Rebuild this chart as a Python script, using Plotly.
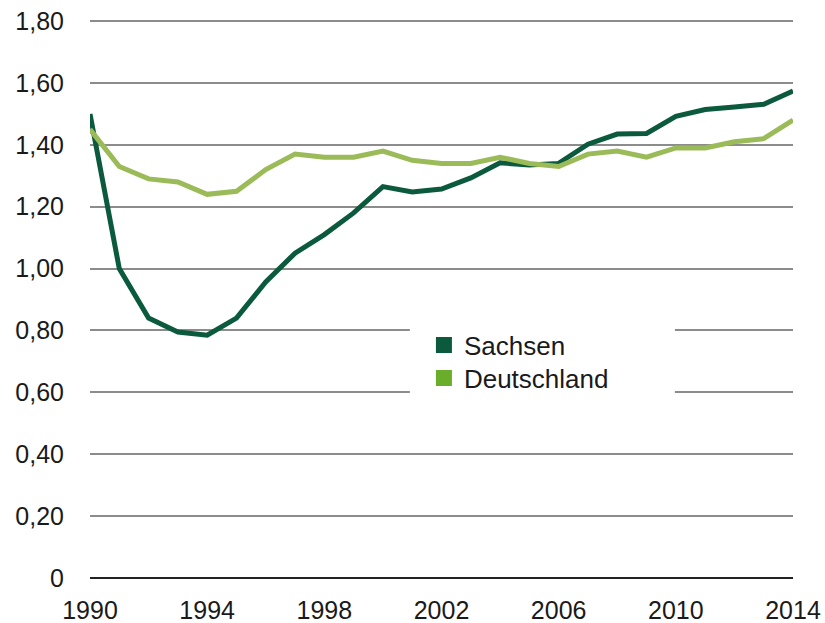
import plotly.graph_objects as go

years = list(range(1990, 2015))
sachsen = [1.50, 1.00, 0.84, 0.795, 0.785, 0.84, 0.957, 1.05, 1.11, 1.18, 1.265, 1.248, 1.257,
           1.293, 1.342, 1.335, 1.340, 1.402, 1.435, 1.437, 1.492, 1.514, 1.522, 1.531, 1.574]
deutschland = [1.45, 1.33, 1.29, 1.28, 1.24, 1.25, 1.32, 1.37, 1.36, 1.36, 1.38, 1.35, 1.34,
               1.34, 1.36, 1.34, 1.33, 1.37, 1.38, 1.36, 1.39, 1.39, 1.41, 1.42, 1.48]

y_tickvals = [0, 0.2, 0.4, 0.6, 0.8, 1.0, 1.2, 1.4, 1.6, 1.8]
y_ticktext = ["0", "0,20", "0,40", "0,60", "0,80", "1,00", "1,20", "1,40", "1,60", "1,80"]
x_tickvals = [1990, 1994, 1998, 2002, 2006, 2010, 2014]

col_sachsen = "#0b5a3d"
col_de_line = "#9bbb59"
col_de_legend = "#6aad2a"
FONT = "Liberation Sans, Arial, sans-serif"

fig = go.Figure()
fig.add_trace(go.Scatter(x=years, y=sachsen, mode="lines", line=dict(color=col_sachsen, width=5),
                         showlegend=False, name="Sachsen"))
fig.add_trace(go.Scatter(x=years, y=deutschland, mode="lines", line=dict(color=col_de_line, width=5),
                         showlegend=False, name="Deutschland"))
# legend entries
fig.add_trace(go.Scatter(x=[None], y=[None], mode="markers", name="Sachsen", legend="legend",
                         marker=dict(symbol="square", size=18, color=col_sachsen)))
fig.add_trace(go.Scatter(x=[None], y=[None], mode="markers", name="Deutschland", legend="legend2",
                         marker=dict(symbol="square", size=18, color=col_de_legend)))

leg_common = dict(xanchor="left", yanchor="middle", bgcolor="rgba(0,0,0,0)",
                  font=dict(size=26, family=FONT, color="#1a1a1a"), itemsizing="trace")

# plot area: x 90..793, y 18..578 ; y range to 1.81 so 1,80 sits at ~21px
fig.update_layout(
    width=825, height=623,
    margin=dict(l=90, r=32, t=18, b=45, autoexpand=False),
    paper_bgcolor="white", plot_bgcolor="white",
    font=dict(family=FONT, size=25, color="#1a1a1a"),
    legend=dict(x=0.475, y=0.416, **leg_common),
    legend2=dict(x=0.475, y=0.357, **leg_common),
    xaxis=dict(range=[1990, 2014], tickvals=x_tickvals, ticktext=[str(v) for v in x_tickvals],
               showgrid=False, zeroline=False, showline=False, ticks="", ticklen=0,
               automargin=False, tickfont=dict(size=25), ticklabeloverflow="allow"),
    yaxis=dict(range=[0, 1.81], tickvals=y_tickvals, ticktext=y_ticktext,
               showgrid=True, gridcolor="#8c8c8c", gridwidth=1.5,
               zeroline=True, zerolinecolor="#222222", zerolinewidth=2,
               showline=False, ticks="", ticklen=0,
               automargin=False, tickfont=dict(size=25), ticklabeloverflow="allow"),
    shapes=[dict(type="rect", xref="paper", yref="paper", x0=0.455, x1=0.832, y0=0.307, y1=0.464,
                 fillcolor="white", line=dict(width=0), layer="above")],
)
fig.update_xaxes(ticklabelstandoff=15)
fig.update_yaxes(ticklabelstandoff=25)

fig.write_html("out.html", config={"displayModeBar": False},
               post_script="document.body.style.margin='0';")
